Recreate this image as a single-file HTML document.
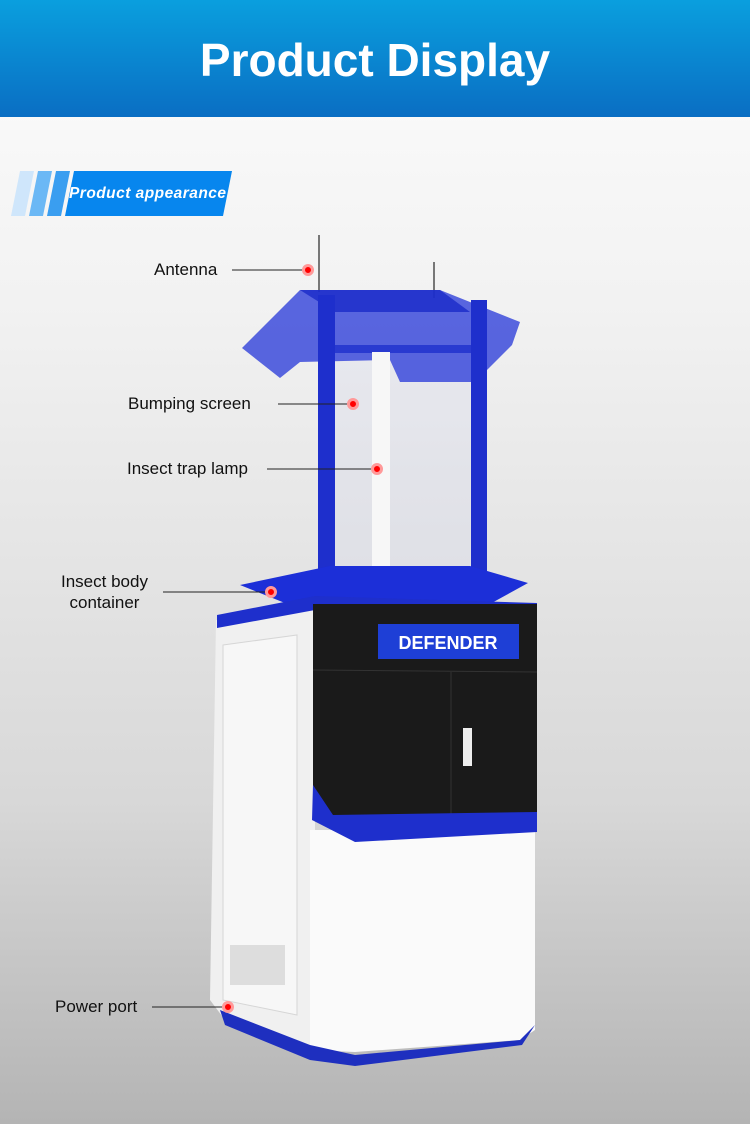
<!DOCTYPE html>
<html><head><meta charset="utf-8"><style>
body{margin:0;width:750px;height:1124px;overflow:hidden;font-family:"Liberation Sans",sans-serif;background:linear-gradient(#fdfdfd 0,#f2f2f2 300px,#d8d8d8 800px,#b4b4b4 1124px);position:relative}
.hdr{position:absolute;left:0;top:0;width:750px;height:117px;background:linear-gradient(#0a9fde,#0a6ec3);color:#fff;font-weight:bold;font-size:46px;text-align:center;line-height:120px}
.lbl{position:absolute;font-size:17px;color:#111;white-space:nowrap}
</style></head><body>
<div class="hdr">Product Display</div>
<svg width="750" height="1124" style="position:absolute;left:0;top:0">
<polygon points="20,171 34,171 25,216 11,216" fill="#cfe6fb"/>
<polygon points="38,171 52,171 43,216 29,216" fill="#6bb8f5"/>
<polygon points="56,171 70,171 61,216 47,216" fill="#3a9ef0"/>
<polygon points="74,171 232,171 223,216 65,216" fill="#0786ee"/>
<text x="69" y="198" fill="#fff" font-size="15.5" font-weight="bold" font-style="italic" font-family="Liberation Sans" textLength="157">Product appearance</text>
<line x1="319" y1="235" x2="319" y2="292" stroke="#777" stroke-width="2"/>
<line x1="434" y1="262" x2="434" y2="298" stroke="#777" stroke-width="2"/>
<rect x="335" y="360" width="136" height="210" fill="#d4d8ec" opacity="0.3"/>
<polygon points="242,348 300,290 440,290 520,322 512,345 475,382 400,382 390,360 300,362 280,378" fill="#2436d8" opacity="0.75"/>
<polygon points="300,290 440,290 470,312 335,312" fill="#1a2bc8" opacity="0.8"/>
<rect x="318" y="295" width="17" height="285" fill="#1e2fcc"/>
<rect x="471" y="300" width="16" height="280" fill="#1e2fcc"/>
<rect x="335" y="345" width="136" height="8" fill="#1e2fcc" opacity="0.8"/>
<rect x="372" y="352" width="18" height="215" fill="#f7f7f7"/>
<polygon points="240,585 330,566 470,566 528,583 488,605 290,605" fill="#1c2fd8"/>
<polygon points="216,620 315,605 315,1055 305,1050 225,1020 210,1000" fill="#f0f0f0"/>
<polygon points="223,645 297,635 297,1015 223,1000" fill="#f7f7f7" stroke="#d6d6d6"/>
<polygon points="310,830 535,830 535,1030 520,1040 355,1052 310,1050" fill="#fafafa"/>
<polygon points="220,1010 310,1045 355,1055 520,1040 535,1025 522,1045 355,1066 310,1060 225,1025" fill="#1e2fbf"/>
<polygon points="217,615 315,596 537,603 537,615 315,610 217,628" fill="#1e2fcc"/>
<rect x="313" y="604" width="224" height="216" fill="#1a1a1a"/>
<line x1="313" y1="670" x2="537" y2="672" stroke="#333"/>
<line x1="451" y1="672" x2="451" y2="818" stroke="#333"/>
<rect x="463" y="728" width="9" height="38" fill="#eee"/>
<rect x="378" y="624" width="141" height="35" fill="#1e3fd6"/>
<text x="448" y="649" fill="#fff" font-size="18" font-weight="bold" text-anchor="middle" font-family="Liberation Sans">DEFENDER</text>
<polygon points="313,785 333,815 537,812 537,832 355,842 312,820" fill="#1e2fcc"/>
<rect x="230" y="945" width="55" height="40" fill="#ddd"/>
<g stroke="#222" stroke-width="1">
<line x1="232" y1="270" x2="302" y2="270"/>
<line x1="278" y1="404" x2="348" y2="404"/>
<line x1="267" y1="469" x2="371" y2="469"/>
<line x1="163" y1="592" x2="266" y2="592"/>
<line x1="152" y1="1007" x2="222" y2="1007"/>
</g>
<g fill="#f00" stroke="#f99" stroke-width="3">
<circle cx="308" cy="270" r="4.5"/><circle cx="353" cy="404" r="4.5"/><circle cx="377" cy="469" r="4.5"/><circle cx="271" cy="592" r="4.5"/><circle cx="228" cy="1007" r="4.5"/>
</g>
</svg>
<div class="lbl" style="left:154px;top:260px">Antenna</div>
<div class="lbl" style="left:128px;top:394px">Bumping screen</div>
<div class="lbl" style="left:127px;top:459px">Insect trap lamp</div>
<div class="lbl" style="left:61px;top:571px;text-align:center;line-height:21px">Insect body<br>container</div>
<div class="lbl" style="left:55px;top:997px">Power port</div>
</body></html>
